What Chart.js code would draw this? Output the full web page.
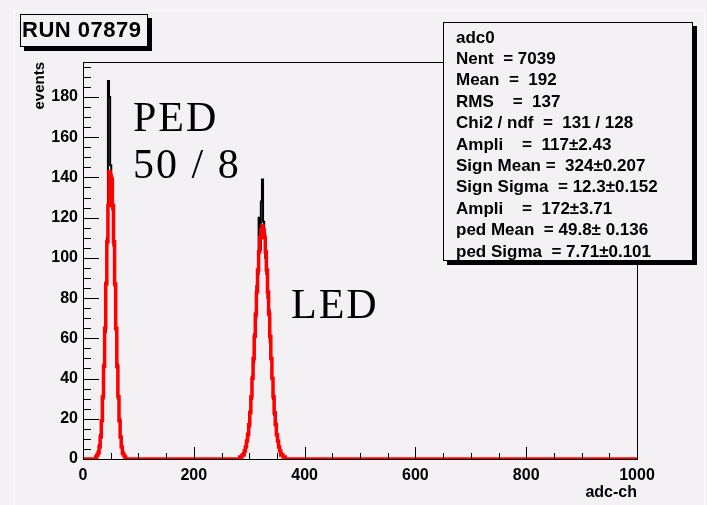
<!doctype html>
<html>
<head>
<meta charset="utf-8">
<title>adc0</title>
<script src="https://cdn.jsdelivr.net/npm/chart.js@4.4.1/dist/chart.umd.min.js"></script>
<style>
  html, body { margin: 0; padding: 0; background: #f3f1f4; }
  #wrap { width: 707px; height: 505px; }
</style>
</head>
<body>
<div id="wrap"><canvas id="canvas" width="707" height="505"></canvas></div>
<script>
// histogram bins (width 2 adc channels), only the non-empty regions
var binStep = 2;
var pedStart = 20;
var ledStart = 278;

// measured counts (black histogram)
var pedCounts = [0,0,1,2,4,7,12,19,30,47,63,88,110,188,180,146,140,124,106,86,64,47,30,20,11,6,3,2,1,0,0];
var ledCounts = [0,0,0,1,1,2,3,4,6,9,13,16,24,30,41,48,62,70,86,92,120,104,128,139,118,112,100,92,80,74,58,50,40,30,22,18,12,9,6,4,3,2,1,1,0,0,0];

// fitted curve
var pedFit = [0,0,1,2,3,6,11,19,31,46,65,87,108,126,143,141,139,126,108,87,65,46,31,19,11,6,3,2,1,0,0];
var ledFit = [0,0,0,1,1,2,2,4,6,9,12,17,23,31,40,50,61,72,83,94,103,110,114,116,114,110,103,94,83,72,61,50,40,31,23,17,12,9,6,4,2,2,1,1,0,0,0];

var xMin = 0, xMax = 1000;
var yMax = 197.4;
var xTickStep = 200, yTickStep = 20;

var statLines = [
  'adc0',
  'Nent  = 7039',
  'Mean  =  192',
  'RMS    =  137',
  'Chi2 / ndf  =  131 / 128',
  'Ampli    =  117\u00b12.43',
  'Sign Mean =  324\u00b10.207',
  'Sign Sigma  = 12.3\u00b10.152',
  'Ampli    =  172\u00b13.71',
  'ped Mean  = 49.8\u00b1 0.136',
  'ped Sigma  = 7.71\u00b10.101'
];

function buildPoints(pedVals, ledVals) {
  var pts = [{x: xMin, y: 0}];
  pedVals.forEach(function(v, i) { pts.push({x: pedStart + i * binStep, y: v}); });
  ledVals.forEach(function(v, i) { pts.push({x: ledStart + i * binStep, y: v}); });
  pts.push({x: xMax, y: 0});
  return pts;
}

var sans = '"Liberation Sans", Arial, sans-serif';
var serif = '"Liberation Serif", "Times New Roman", serif';

var rootLook = {
  id: 'rootLook',
  beforeDraw: function(chart) {
    var ctx = chart.ctx;
    ctx.save();
    ctx.fillStyle = '#f3f1f4';
    ctx.fillRect(0, 0, chart.width, chart.height);
    ctx.strokeStyle = '#fcfcfc';
    ctx.lineWidth = 1;
    ctx.beginPath();
    ctx.moveTo(14.5, 10); ctx.lineTo(14.5, chart.height);
    ctx.moveTo(14, 10.5); ctx.lineTo(705, 10.5);
    ctx.moveTo(704.5, 10); ctx.lineTo(704.5, chart.height);
    ctx.stroke();
    ctx.restore();
  },
  afterDatasetsDraw: function(chart) {
    var ctx = chart.ctx, a = chart.chartArea;
    var xs = chart.scales.x, ys = chart.scales.y;
    ctx.save();
    ctx.strokeStyle = '#000';
    ctx.lineWidth = 1;
    ctx.strokeRect(Math.round(a.left) + 0.5, Math.round(a.top) + 0.5,
                   Math.round(a.right - a.left), Math.round(a.bottom - a.top));
    ctx.beginPath();
    // y ticks, pointing inward
    for (var v = 0; v <= yMax; v += 5) {
      var py = Math.round(ys.getPixelForValue(v)) + 0.5;
      var len = (v % yTickStep === 0) ? 16 : 8;
      ctx.moveTo(a.left, py); ctx.lineTo(a.left + len, py);
    }
    // x ticks, pointing up
    for (var u = xMin; u <= xMax; u += 50) {
      var px = Math.round(xs.getPixelForValue(u)) + 0.5;
      var l2 = (u % xTickStep === 0) ? 12 : 6;
      ctx.moveTo(px, a.bottom); ctx.lineTo(px, a.bottom - l2);
    }
    ctx.stroke();
    ctx.restore();
  },
  afterDraw: function(chart) {
    var ctx = chart.ctx;
    ctx.save();
    // run label box
    ctx.fillStyle = '#000';
    ctx.fillRect(24, 47, 128, 4);
    ctx.fillRect(148, 18, 4, 33);
    ctx.fillStyle = '#f3f1f4';
    ctx.fillRect(20, 14, 128, 33);
    ctx.strokeStyle = '#000';
    ctx.lineWidth = 1;
    ctx.strokeRect(20.5, 14.5, 127, 32);
    ctx.fillStyle = '#000';
    ctx.font = 'bold 22px ' + sans;
    ctx.textBaseline = 'middle';
    ctx.letterSpacing = '0.5px';
    ctx.fillText('RUN 07879', 22, 31);
    ctx.letterSpacing = '0px';

    // stats box
    ctx.fillStyle = '#000';
    ctx.fillRect(447, 261, 250, 4);
    ctx.fillRect(693, 26, 4, 239);
    ctx.fillStyle = '#f3f1f4';
    ctx.fillRect(443, 22, 250, 239);
    ctx.strokeRect(443.5, 22.5, 249, 238);
    ctx.fillStyle = '#000';
    ctx.font = 'bold 17px ' + sans;
    statLines.forEach(function(s, i) {
      ctx.fillText(s, 456, 38 + i * 21.4);
    });

    // annotations
    ctx.font = '42px ' + serif;
    ctx.textBaseline = 'alphabetic';
    ctx.letterSpacing = '2px';
    ctx.fillText('PED', 133, 131);
    ctx.fillText('50 / 8', 133, 178);
    ctx.fillText('LED', 291, 318);
    ctx.letterSpacing = '0px';
    ctx.restore();
  }
};

var config = {
  type: 'line',
  data: {
    datasets: [{
      label: 'fit',
      data: buildPoints(pedFit, ledFit),
      borderColor: '#ff0000',
      borderWidth: 3.5,
      stepped: 'middle',
      pointRadius: 0,
      fill: false
    }, {
      label: 'adc0',
      data: buildPoints(pedCounts, ledCounts),
      borderColor: '#000000',
      borderWidth: 2,
      stepped: 'middle',
      pointRadius: 0,
      fill: false
    }]
  },
  options: {
    responsive: false,
    animation: false,
    events: [],
    layout: { padding: { left: 0, top: 62, right: 70, bottom: 0 } },
    plugins: { legend: { display: false }, tooltip: { enabled: false } },
    scales: {
      x: {
        type: 'linear',
        min: xMin, max: xMax,
        grid: { display: false, drawTicks: false },
        border: { display: false },
        ticks: {
          stepSize: xTickStep, padding: 7, maxRotation: 0,
          color: '#000', font: { family: sans, size: 16, weight: 'bold' },
          callback: function(v) { return String(v); }
        },
        title: {
          display: true, text: 'adc-ch', align: 'end', color: '#000',
          font: { family: sans, size: 16, weight: 'bold' },
          padding: { top: 0, bottom: 3 }
        },
        afterFit: function(scale) { scale.height = 46; }
      },
      y: {
        min: 0, max: yMax,
        grid: { display: false, drawTicks: false },
        border: { display: false },
        ticks: {
          stepSize: yTickStep, padding: 5,
          color: '#000', font: { family: sans, size: 16, weight: 'bold' },
          callback: function(v) { return v % yTickStep === 0 ? String(v) : ''; }
        },
        title: {
          display: true, text: 'events', align: 'end', color: '#000',
          font: { family: sans, size: 15, weight: 'bold' },
          padding: { top: 31, bottom: 0 }
        },
        afterFit: function(scale) { scale.width = 83; }
      }
    }
  },
  plugins: [rootLook]
};

window.myChart = new Chart(document.getElementById('canvas'), config);
</script>
</body>
</html>
